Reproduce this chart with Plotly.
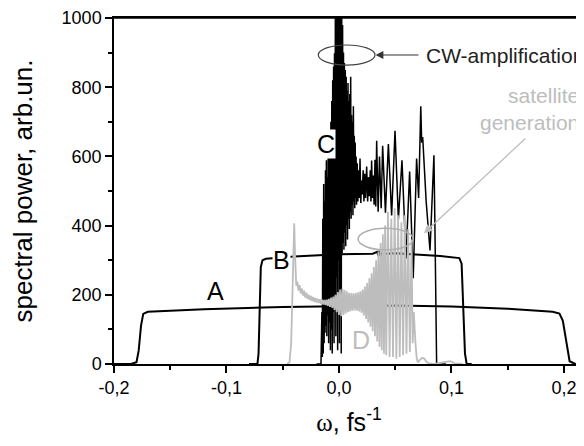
import plotly.graph_objects as go

# ---- curve A (broad spectrum) ----
a_x = [-0.2, -0.185, -0.180, -0.178, -0.176, -0.174, -0.170, -0.120, -0.050, 0.000,
       0.050, 0.100, 0.150, 0.190, 0.196, 0.199, 0.202, 0.205, 0.210, 0.218]
a_y = [0, 0, 5, 40, 110, 145, 151, 158, 165, 168,
       169, 166, 160, 151, 146, 125, 60, 8, 0, 0]

# ---- curve B ----
b_x = [-0.080, -0.0725, -0.0715, -0.0705, -0.0695, -0.068, -0.065, -0.040, 0.000, 0.030,
       0.034, 0.035, 0.036, 0.037, 0.038, 0.039, 0.050, 0.090, 0.107, 0.109,
       0.1105, 0.112, 0.1135, 0.118]
b_y = [0, 0, 30, 150, 280, 300, 304, 311, 317, 319,
       324, 314, 327, 312, 322, 318, 320, 312, 306, 290,
       150, 30, 0, 0]

# ---- curve C (CW-amplification) ----
c_x = [-0.0200, -0.0160, -0.0152, -0.0148, -0.0144, -0.0140, -0.0136, -0.0132, -0.0128, -0.0124,
       -0.0120, -0.0116, -0.0112, -0.0108, -0.0104, -0.0100, -0.0096, -0.0092, -0.0088, -0.0084,
       -0.0080, -0.0076, -0.0072, -0.0068, -0.0064, -0.0060, -0.0056, -0.0052, -0.0048, -0.0044,
       -0.0040, -0.0036, -0.0032, -0.0028, -0.0024, -0.0020, -0.0016, -0.0012, -0.0008, -0.0004,
       0.0000, 0.0004, 0.0008, 0.0012, 0.0016, 0.0020, 0.0024, 0.0028, 0.0032, 0.0036,
       0.0040, 0.0044, 0.0048, 0.0052, 0.0056, 0.0060, 0.0064, 0.0068, 0.0072, 0.0076,
       0.0080, 0.0084, 0.0088, 0.0092, 0.0096, 0.0100, 0.0104, 0.0108, 0.0112, 0.0116,
       0.0120, 0.0124, 0.0128, 0.0132, 0.0136, 0.0140, 0.0144, 0.0148, 0.0152, 0.0156,
       0.0162, 0.0168, 0.0174, 0.0180, 0.0187, 0.0194, 0.0200, 0.0207, 0.0215, 0.0222,
       0.0229, 0.0236, 0.0246, 0.0255, 0.0262, 0.0270, 0.0278, 0.0284, 0.0290, 0.0298,
       0.0305, 0.0312, 0.0320, 0.0327, 0.0335, 0.0348, 0.0360, 0.0375, 0.0388, 0.0413,
       0.0439, 0.0468, 0.0498, 0.0528, 0.0560, 0.0596, 0.0628, 0.0660, 0.0690, 0.0708,
       0.0727, 0.0735, 0.0744, 0.0775, 0.0809, 0.0830, 0.0844, 0.0852, 0.0860, 0.0868,
       0.0950]
c_y = [0, 0, 150, 20, 420, 30, 520, 60, 470, 90,
       560, 110, 589, 80, 540, 140, 631, 60, 600, 120,
       660, 40, 700, 100, 760, 30, 820, 150, 860, 60,
       898, 200, 1100, 80, 1100, 250, 1100, 40, 1100, 300,
       1100, 60, 1100, 200, 1100, 30, 1050, 320, 980, 350,
       900, 330, 870, 380, 850, 340, 830, 400, 790, 360,
       812, 420, 760, 390, 780, 440, 830, 420, 720, 460,
       700, 430, 745, 470, 660, 450, 640, 480, 600, 460,
       580, 470, 560, 480, 594, 465, 530, 490, 560, 470,
       550, 480, 571, 470, 540, 485, 560, 470, 588, 480,
       545, 460, 590, 455, 645, 440, 600, 450, 631, 437,
       636, 429, 674, 418, 589, 305, 556, 248, 594, 480,
       745, 640, 656, 470, 328, 480, 603, 420, 120, 0,
       0]

# ---- curve D (satellite generation) ----
d_x = [-0.0460, -0.0440, -0.0425, -0.0415, -0.0405, -0.0398, -0.0392, -0.0386,
       -0.0380, -0.0370, -0.0360, -0.0350, -0.0340, -0.0330, -0.0320, -0.0310, -0.0300, -0.0290,
       -0.0280, -0.0270, -0.0260, -0.0250, -0.0240, -0.0230, -0.0220, -0.0210, -0.0200, -0.0190,
       -0.0180, -0.0170, -0.0160, -0.0150, -0.0140, -0.0130, -0.0120, -0.0110, -0.0100, -0.0090,
       -0.0080, -0.0070, -0.0060, -0.0050, -0.0040, -0.0030, -0.0020, -0.0010, 0.0000, 0.0010,
       0.0020, 0.0030, 0.0040, 0.0050, 0.0060, 0.0070, 0.0080, 0.0090, 0.0100, 0.0110,
       0.0120, 0.0130, 0.0140, 0.0150, 0.0160, 0.0170, 0.0180, 0.0190, 0.0200, 0.0210,
       0.0220, 0.0230, 0.0240, 0.0250, 0.0260, 0.0270, 0.0280, 0.0290, 0.0300, 0.0310,
       0.0320, 0.0330, 0.0340, 0.0350, 0.0360, 0.0370, 0.0380, 0.0390, 0.0400, 0.0410,
       0.0420, 0.0435, 0.0450, 0.0465, 0.0480, 0.0495, 0.0510, 0.0525, 0.0540, 0.0555,
       0.0570, 0.0585, 0.0600, 0.0615, 0.0630, 0.0645, 0.0655, 0.0665, 0.0672, 0.0680,
       0.0690, 0.0700, 0.0720, 0.0740, 0.0760, 0.0780, 0.0800, 0.0850, 0.0950, 0.0990,
       0.1030, 0.1100]
d_y = [0, 5, 60, 200, 340, 407, 330, 250,
       226, 238, 212, 228, 204, 218, 198, 212, 192, 206,
       188, 200, 185, 197, 182, 194, 180, 191, 178, 189,
       176, 187, 174, 186, 172, 185, 170, 186, 168, 188,
       165, 192, 162, 195, 156, 200, 150, 208, 142, 215,
       138, 218, 142, 214, 146, 210, 150, 206, 152, 205,
       154, 204, 155, 205, 154, 207, 152, 210, 148, 215,
       140, 224, 130, 234, 120, 248, 108, 262, 95, 280,
       80, 300, 65, 325, 50, 350, 40, 375, 30, 400,
       25, 440, 20, 420, 20, 450, 15, 430, 20, 410,
       25, 430, 30, 390, 35, 360, 60, 150, 97, 60,
       20, 5, 12, 18, 15, 5, 2, 0, 6, 8,
       2, 0]

# ---- axis ticks ----
x_ticks = [-0.2, -0.1, 0.0, 0.1, 0.2]
x_tick_labels = ['-0,2', '-0,1', '0,0', '0,1', '0,2']
x_minor = [-0.15, -0.05, 0.05, 0.15]
y_ticks = [0, 200, 400, 600, 800, 1000]
y_tick_labels = ['0', '200', '400', '600', '800', '1000']
y_minor = [100, 300, 500, 700, 900]

FONT = 'Arial, Liberation Sans, sans-serif'
GRAY = '#bdbdbd'

fig = go.Figure()
fig.add_trace(go.Scatter(x=a_x, y=a_y, mode='lines', line=dict(color='black', width=2)))
fig.add_trace(go.Scatter(x=b_x, y=b_y, mode='lines', line=dict(color='black', width=2)))
fig.add_trace(go.Scatter(x=c_x, y=c_y, mode='lines', line=dict(color='black', width=1.5)))
fig.add_trace(go.Scatter(x=d_x, y=d_y, mode='lines', line=dict(color=GRAY, width=1.8)))

# top frame line
fig.add_shape(type='line', xref='paper', yref='paper', x0=0, x1=1, y0=1, y1=1,
              line=dict(color='black', width=1.5))

# ellipses
fig.add_shape(type='circle', xref='x', yref='y', x0=-0.0184, x1=0.032, y0=864, y1=922,
              line=dict(color='#444444', width=1.2))
fig.add_shape(type='circle', xref='x', yref='y', x0=0.017, x1=0.066, y0=330, y1=392,
              line=dict(color='#b0b0b0', width=1.5))

# arrows
fig.add_annotation(x=0.0325, y=893, ax=0.072, ay=893, xref='x', yref='y', axref='x', ayref='y',
                   text='', showarrow=True, arrowhead=2, arrowsize=1.3, arrowwidth=1.2,
                   arrowcolor='#333333')
fig.add_annotation(x=0.0756, y=378, ax=0.167, ay=656, xref='x', yref='y', axref='x', ayref='y',
                   text='', showarrow=True, arrowhead=2, arrowsize=1.3, arrowwidth=1.3,
                   arrowcolor=GRAY)

# labels
fig.add_annotation(x=0.0756, y=893, xref='x', yref='y', text='CW-amplification', showarrow=False,
                   xanchor='left', yanchor='middle', font=dict(family=FONT, size=21, color='#222222'))
fig.add_annotation(x=0.2155, y=737, xref='x', yref='y', text='satellite<br>generation', showarrow=False,
                   xanchor='right', yanchor='middle', align='right',
                   font=dict(family=FONT, size=21, color=GRAY))
for txt, lx, ly, col in [('A', -0.110, 210, 'black'), ('B', -0.051, 300, 'black'),
                         ('C', -0.0116, 636, 'black'), ('D', 0.020, 68, GRAY)]:
    fig.add_annotation(x=lx, y=ly, xref='x', yref='y', text=txt, showarrow=False,
                       bgcolor='white' if col == 'black' else 'rgba(0,0,0,0)', borderpad=0,
                       font=dict(family=FONT, size=25, color=col))

# the page body adds an 8px offset, so the figure is 8px smaller than the window
fig.update_layout(
    width=576, height=438,
    margin=dict(l=106, r=0, t=4, b=82),
    paper_bgcolor='white', plot_bgcolor='white',
    showlegend=False,
    font=dict(family=FONT, color='black'),
)
fig.update_xaxes(range=[-0.2, 0.2178], showgrid=False, zeroline=False,
                 showline=True, linecolor='black', linewidth=1.5, mirror=True,
                 ticks='outside', ticklen=7, tickwidth=1.5, tickcolor='black',
                 tickmode='array', tickvals=x_ticks, ticktext=x_tick_labels,
                 tickfont=dict(size=18), ticklabeloverflow='allow',
                 minor=dict(tickmode='array', tickvals=x_minor, ticks='outside', ticklen=4,
                            tickwidth=1.5, tickcolor='black'),
                 title=dict(text="<span style='font-family:Liberation Serif'>ω</span>, fs<sup>-1</sup>",
                            font=dict(size=25), standoff=16))
fig.update_yaxes(range=[0, 1000], showgrid=False, zeroline=False,
                 showline=True, linecolor='black', linewidth=1.5,
                 ticks='outside', ticklen=7, tickwidth=1.5, tickcolor='black',
                 tickmode='array', tickvals=y_ticks, ticktext=y_tick_labels,
                 tickfont=dict(size=18), ticklabeloverflow='allow',
                 minor=dict(tickmode='array', tickvals=y_minor, ticks='outside', ticklen=4,
                            tickwidth=1.5, tickcolor='black'),
                 title=dict(text='spectral power, arb.un.', font=dict(size=26), standoff=30))

fig.write_html("out.html")
